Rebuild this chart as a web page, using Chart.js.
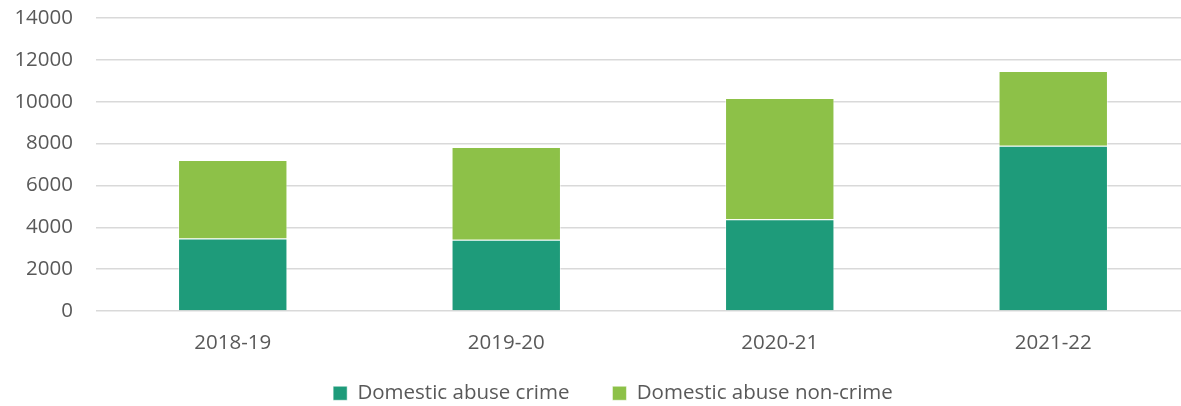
<!DOCTYPE html>
<html>
<head>
<meta charset="utf-8">
<script src="https://cdn.jsdelivr.net/npm/chart.js@4"></script>
<style>
  html, body { margin: 0; padding: 0; background: #fff; overflow: hidden; }
  #wrap { width: 1190px; height: 406px; }
</style>
</head>
<body>
<div id="wrap"><canvas id="abuseChart" width="1190" height="406"></canvas></div>
<script>
const years = ['2018-19', '2019-20', '2020-21', '2021-22'];
const crime = [3470, 3400, 4380, 7890];
const nonCrime = [3750, 4440, 5800, 3580];
const yTicks = [0, 2000, 4000, 6000, 8000, 10000, 12000, 14000];

const textGrey = '#595959';
Chart.defaults.font.family = '"Open Sans", sans-serif';
Chart.defaults.font.size = 20.5;
Chart.defaults.color = textGrey;

// legend: fixed box height, then stretched up and nudged right after layout
const legendPlacement = {
  id: 'legendPlacement',
  beforeInit(chart) {
    const fit = chart.legend.fit;
    chart.legend.fit = function () {
      fit.call(this);
      if (this.options.display) this.height = 50;
    };
  },
  afterLayout(chart) {
    const lg = chart.legend;
    lg.top -= 16;
    lg.height += 16;
    lg.left += 18;
    lg.right += 18;
  }
};

new Chart(document.getElementById('abuseChart'), {
  type: 'bar',
  data: {
    labels: years,
    datasets: [
      {
        label: 'Domestic abuse crime',
        data: crime,
        backgroundColor: '#1e9b7a',
        borderColor: 'rgba(255,255,255,0.5)',
        borderWidth: 1,
        borderSkipped: 'bottom'
      },
      {
        label: 'Domestic abuse non-crime',
        data: nonCrime,
        backgroundColor: '#8dc148',
        borderColor: 'rgba(255,255,255,0.5)',
        borderWidth: 1,
        borderSkipped: 'bottom'
      }
    ]
  },
  options: {
    responsive: false,
    animation: false,
    layout: { padding: { top: 18, left: 0, right: 0, bottom: 0 } },
    datasets: { bar: { categoryPercentage: 1, barPercentage: 0.4 } },
    scales: {
      x: {
        stacked: true,
        grid: { display: false },
        border: { display: false },
        ticks: { padding: 12, color: textGrey, maxRotation: 0 },
        afterFit(scale) { scale.height = 45; }
      },
      y: {
        stacked: true,
        min: 0,
        max: 14000,
        afterBuildTicks(scale) { scale.ticks = yTicks.map(v => ({ value: v })); },
        grid: { color: '#d9d9d9', lineWidth: 1.5, drawTicks: false },
        border: { display: false },
        ticks: { padding: 23, color: textGrey, callback: v => String(v) },
        afterFit(scale) {
          scale.width = 96;
          scale.paddingTop = 0;
          scale.paddingBottom = 0;
        }
      }
    },
    plugins: {
      legend: {
        position: 'bottom',
        labels: { boxWidth: 14, boxHeight: 14, padding: 43, color: textGrey }
      },
      tooltip: { enabled: false }
    }
  },
  plugins: [legendPlacement]
});
</script>
</body>
</html>
